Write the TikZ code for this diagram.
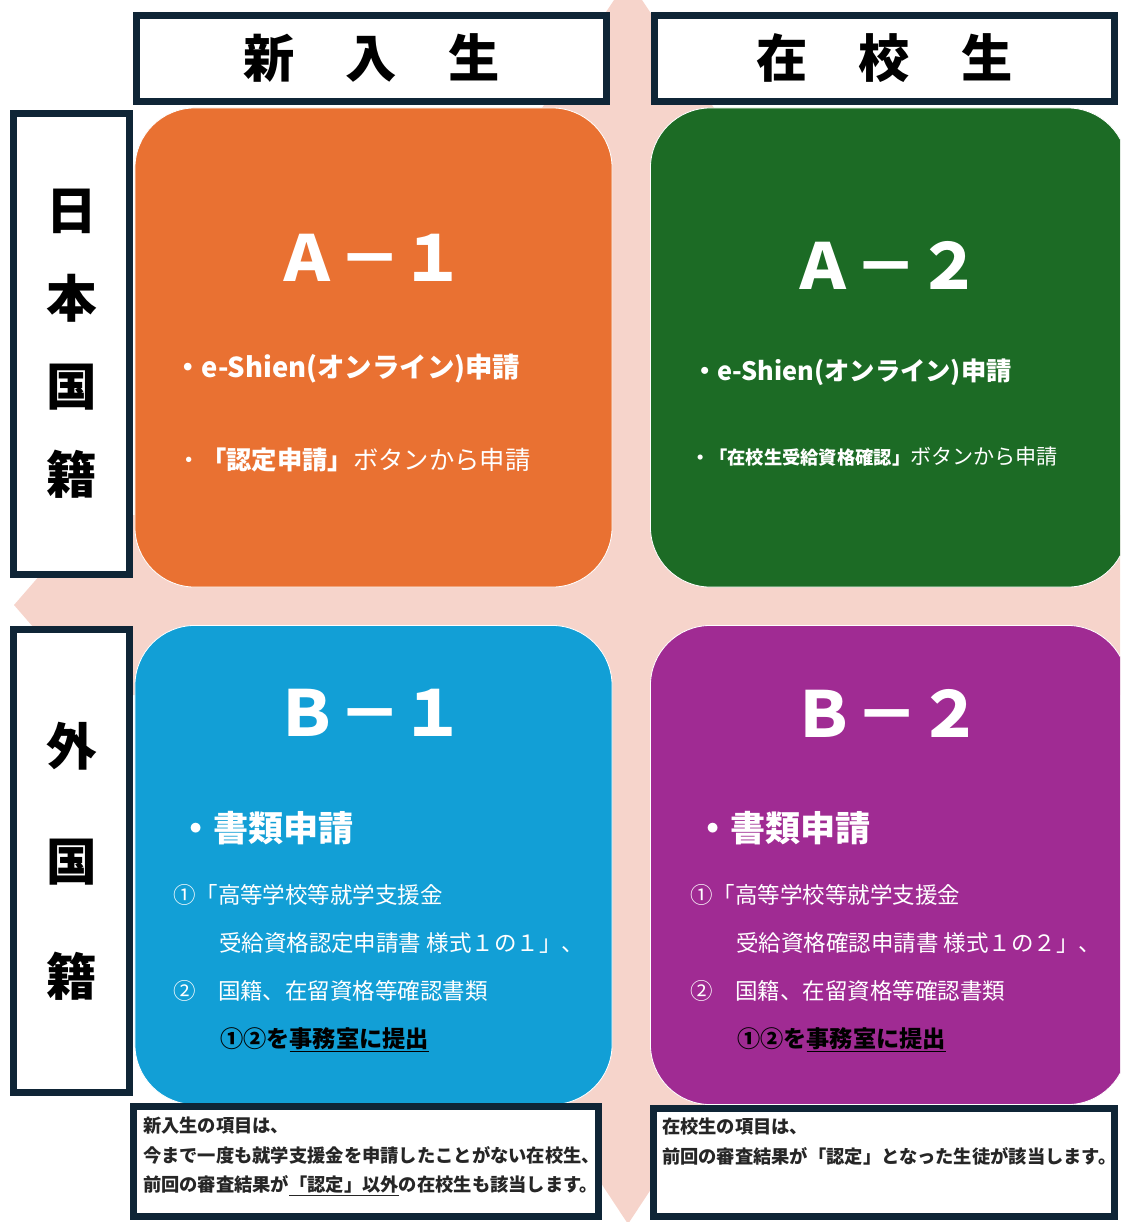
\documentclass[tikz,border=0pt]{standalone}
\usepackage{fontspec}
\setmainfont{Noto Sans CJK JP}
\definecolor{frame}{HTML}{0F2536}
\definecolor{crosspink}{HTML}{F6D4CB}
\definecolor{cellAa}{HTML}{E97132}
\definecolor{cellAb}{HTML}{1C6B25}
\definecolor{cellBa}{HTML}{129FD6}
\definecolor{cellBb}{HTML}{A02B93}
\newcommand{\jpsize}[2]{\fontsize{#1}{#2}\selectfont}

\begin{document}
\begin{tikzpicture}[x=0.025cm,y=-0.025cm,inner sep=0pt,outer sep=0pt,
	framebox/.style={draw=frame,line width=5pt,fill=white},
	cell/.style={rounded corners=1.5cm,draw=white,line width=0.6pt,minimum width=11.925cm,minimum height=11.975cm},
	title/.style={text=white,font=\jpsize{45}{50}\bfseries},
	item/.style={anchor=west,text=white,font=\jpsize{16}{20}},
	notetext/.style={anchor=north west,align=left,text=black!85,font=\jpsize{13}{21}\bfseries}]
	\useasboundingbox (0,0) rectangle (1120,1222);
	\clip (0,0) rectangle (1120,1222);

	% pink cross behind everything
	\fill[crosspink] (628,-21) -- (758,174) -- (718,174) -- (718,515) -- (1140,515)
		-- (1140,695) -- (718,695) -- (718,1027) -- (758,1027) -- (628,1224)
		-- (498,1027) -- (538,1027) -- (538,695) -- (127,695) -- (127,735)
		-- (14,605) -- (127,475) -- (127,515) -- (538,515) -- (538,174)
		-- (498,174) -- cycle;

	% the four cells
	\node[cell,fill=cellAa] (cAa) at (373.5,347.5) {};
	\node[cell,fill=cellAb] (cAb) at (889,347.5) {};
	\node[cell,fill=cellBa] (cBa) at (373.5,865) {};
	\node[cell,fill=cellBb] (cBb) at (889,865) {};

	% headers
	\node[framebox,minimum width=11.75cm,minimum height=2.15cm,font=\jpsize{36.5}{40}\bfseries] (hNew) at (371.5,58.5) {新　入　生};
	\node[framebox,minimum width=11.5cm,minimum height=2.15cm,font=\jpsize{36.5}{40}\bfseries] (hCur) at (884.5,58.5) {在　校　生};
	\node[framebox,minimum width=2.9cm,minimum height=11.525cm,align=center,font=\jpsize{36}{62.6}\bfseries] (sJp) at (71.5,344) {日\\本\\国\\籍};
	\node[framebox,minimum width=2.9cm,minimum height=11.575cm,align=center,font=\jpsize{36}{81.8}\bfseries] (sFor) at (71.5,861) {外\\国\\籍};

	% A-1
	\node[title] (tAa) at (370,258) {Ａ－１};
	\node[item,font=\jpsize{19.5}{24}\bfseries] (oAa) at (174,369) {・e-Shien(オンライン)申請};
	\node[item,font=\jpsize{18}{22}] (bAa) at (176,460) {・{\bfseries 「認定申請」}ボタンから申請};

	% A-2
	\node[title] (tAb) at (886,265) {Ａ－２};
	\node[item,font=\jpsize{18}{22}\bfseries] (oAb) at (692,372) {・e-Shien(オンライン)申請};
	\node[item,font=\jpsize{15}{18}] (bAb) at (691,457) {{\jpsize{13}{16}\bfseries ・「在校生受給資格確認」}ボタンから申請};

	% B-1
	\node[title] (tBa) at (370,713) {Ｂ－１};
	\node[item,font=\jpsize{25}{30}\bfseries] (hBa) at (178,828) {・書類申請};
	\node[item] (lBa1) at (173,895) {①「高等学校等就学支援金};
	\node[item] (lBa2) at (219,943) {受給資格認定申請書 様式１の１」、};
	\node[item] (lBa3) at (173,991) {②　国籍、在留資格等確認書類};
	\node[item,text=black,font=\jpsize{16.5}{20}\bfseries] (lBa4) at (220,1040) {①②を\underline{事務室に提出}};

	% B-2
	\node[title] (tBb) at (887,713) {Ｂ－２};
	\node[item,font=\jpsize{25}{30}\bfseries] (hBb) at (695,828) {・書類申請};
	\node[item] (lBb1) at (690,895) {①「高等学校等就学支援金};
	\node[item] (lBb2) at (736,943) {受給資格確認申請書 様式１の２」、};
	\node[item] (lBb3) at (690,991) {②　国籍、在留資格等確認書類};
	\node[item,text=black,font=\jpsize{16.5}{20}\bfseries] (lBb4) at (737,1040) {①②を\underline{事務室に提出}};

	% notes under the cells
	\node[framebox,minimum width=11.625cm,minimum height=2.75cm] (nNew) at (366,1161.5) {};
	\node[notetext] (nNewTxt) at (143,1117) {新入生の項目は、\\今まで一度も就学支援金を申請したことがない在校生、\\前回の審査結果が\underline{「認定」以外}の在校生も該当します。};
	\node[framebox,minimum width=11.525cm,minimum height=2.7cm] (nCur) at (884,1162.5) {};
	\node[notetext] (nCurTxt) at (662,1118) {在校生の項目は、\\前回の審査結果が「認定」となった生徒が該当します。};
\end{tikzpicture}
\end{document}
